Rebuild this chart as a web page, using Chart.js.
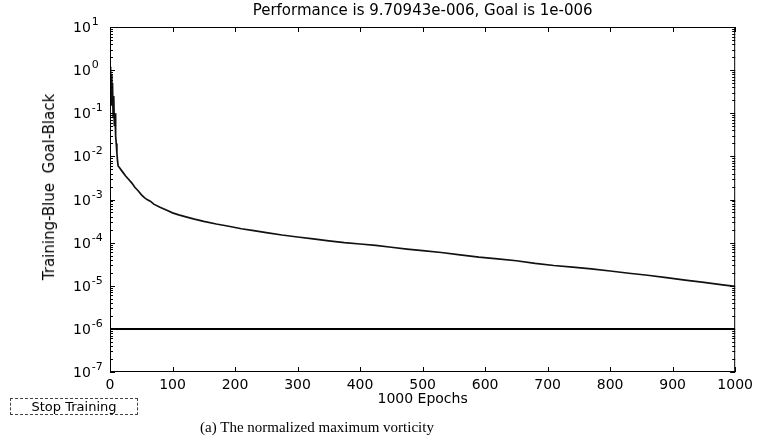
<!DOCTYPE html>
<html>
<head>
<meta charset="utf-8">
<script src="https://cdn.jsdelivr.net/npm/chart.js@4.4.1/dist/chart.umd.min.js"></script>
<style>
    body { margin: 0; background: #fff; }
    #wrap { position: relative; width: 758px; height: 441px; overflow: hidden; }
    #ylabel {
        position: absolute; left: 49px; top: 187px;
        transform: translate(-50%, -50%) rotate(-90deg);
        font: 15px "DejaVu Sans", sans-serif; white-space: pre; color: #000;
    }
    #stopBtn {
        position: absolute; left: 10px; top: 398px; width: 128px; height: 17px;
        border: 1px dashed #444; box-sizing: border-box;
        font: 13px "DejaVu Sans", sans-serif; line-height: 15px; text-align: center; color: #000;
    }
    #caption {
        position: absolute; left: 317px; top: 427px; transform: translate(-50%, -50%);
        font: 15px "Liberation Serif", serif; white-space: nowrap; color: #000;
    }
</style>
</head>
<body>
<div id="wrap">
    <canvas id="perfChart" width="758" height="441"></canvas>
    <div id="ylabel">Training-Blue  Goal-Black</div>
    <div id="stopBtn">Stop Training</div>
    <div id="caption">(a) The normalized maximum vorticity</div>
</div>
<script>
    // training performance (epoch, mse)
    const epochs = [0, 1, 2, 3, 4, 5, 6, 7, 8, 9, 10, 11, 12, 13, 15, 18, 21, 25, 30, 35, 40, 45, 50, 55, 60, 65, 70,
        80, 90, 100, 110, 120, 135, 150, 170, 190, 210, 230, 250, 275, 300, 325, 350, 375, 400, 425, 450, 475, 500,
        530, 560, 590, 620, 650, 680, 710, 740, 770, 800, 830, 860, 890, 920, 950, 980, 1000];
    const performance = [1.2, 0.35, 0.8, 0.15, 0.5, 0.08, 0.25, 0.05, 0.1, 0.03, 0.02, 0.012, 0.008, 0.006,
        0.0055, 0.0048, 0.0042, 0.0035, 0.0029, 0.0024, 0.0019, 0.0016, 0.0013, 0.0011, 0.00098, 0.0009, 0.00078,
        0.00066, 0.00057, 0.00049, 0.00044, 0.0004, 0.00035, 0.00031, 0.00027, 0.00024, 0.00021, 0.00019, 0.00017,
        0.00015, 0.000135, 0.000122, 0.00011, 0.0001, 9.3e-5, 8.6e-5, 7.8e-5, 7.1e-5, 6.5e-5,
        5.9e-5, 5.2e-5, 4.6e-5, 4.2e-5, 3.8e-5, 3.3e-5, 2.95e-5, 2.7e-5, 2.45e-5, 2.2e-5, 1.95e-5, 1.75e-5,
        1.55e-5, 1.35e-5, 1.2e-5, 1.05e-5, 9.71e-6];
    const goal = 1e-6;
    const goalEpochs = [0, 1000];

    // axis ticks
    const xTicks = [0, 100, 200, 300, 400, 500, 600, 700, 800, 900, 1000];
    const yDecades = [1e-7, 1e-6, 1e-5, 1e-4, 1e-3, 1e-2, 1e-1, 1e0, 1e1];

    // MATLAB style box with inward tick marks and 10^n labels
    const axisFrame = {
        id: 'axisFrame',
        afterDatasetsDraw(chart) {
            const { ctx, chartArea: a, scales: { x, y } } = chart;
            ctx.save();
            ctx.strokeStyle = '#000';
            ctx.lineWidth = 1;
            ctx.strokeRect(a.left + 0.5, a.top + 0.5, a.width - 1, a.height - 1);
            ctx.beginPath();
            xTicks.forEach(v => {
                const px = Math.round(x.getPixelForValue(v)) + 0.5;
                ctx.moveTo(px, a.bottom); ctx.lineTo(px, a.bottom - 5);
                ctx.moveTo(px, a.top); ctx.lineTo(px, a.top + 5);
            });
            yDecades.forEach(d => {
                for (let m = 1; m <= 9; m++) {
                    const v = d * m;
                    if (v > 10) break;
                    const py = Math.round(y.getPixelForValue(v)) + 0.5;
                    const len = m === 1 ? 5 : 3;
                    ctx.moveTo(a.left, py); ctx.lineTo(a.left + len, py);
                    ctx.moveTo(a.right, py); ctx.lineTo(a.right - len, py);
                }
            });
            ctx.stroke();

            // decade labels: "10" with raised exponent
            ctx.fillStyle = '#000';
            ctx.textAlign = 'left';
            ctx.textBaseline = 'alphabetic';
            yDecades.forEach(d => {
                const py = y.getPixelForValue(d);
                const exp = String(Math.round(Math.log10(d)));
                ctx.font = '14px "DejaVu Sans"';
                ctx.fillText('10', 73, py + 5);
                const w = ctx.measureText('10').width;
                ctx.font = '11px "DejaVu Sans"';
                ctx.fillText(exp, 73 + w + 1, py - 2);
            });
            ctx.restore();
        }
    };

    new Chart(document.getElementById('perfChart'), {
        type: 'line',
        data: {
            datasets: [{
                label: 'Training',
                data: epochs.map((e, i) => ({ x: e, y: performance[i] })),
                borderColor: '#111',
                borderWidth: 1.7,
                pointRadius: 0,
                tension: 0
            }, {
                label: 'Goal',
                data: goalEpochs.map(e => ({ x: e, y: goal })),
                borderColor: '#000',
                borderWidth: 2,
                pointRadius: 0
            }]
        },
        options: {
            responsive: false,
            animation: false,
            devicePixelRatio: 1,
            layout: { padding: { left: 72, right: 21, top: 0, bottom: 33 } },
            plugins: {
                legend: { display: false },
                tooltip: { enabled: false },
                title: {
                    display: true,
                    text: 'Performance is 9.70943e-006, Goal is 1e-006',
                    color: '#000',
                    fullSize: false,
                    font: { family: 'DejaVu Sans', size: 15, weight: 'normal' },
                    padding: { top: 2, bottom: 7 }
                }
            },
            scales: {
                x: {
                    type: 'linear',
                    min: 0,
                    max: 1000,
                    afterBuildTicks: s => { s.ticks = xTicks.map(v => ({ value: v })); },
                    afterFit: s => { s.height = 36; },
                    ticks: {
                        color: '#000',
                        font: { family: 'DejaVu Sans', size: 14 },
                        padding: 5,
                        maxRotation: 0,
                        callback: v => String(v)
                    },
                    grid: { display: false, drawTicks: false },
                    border: { display: false },
                    title: {
                        display: true,
                        text: '1000 Epochs',
                        color: '#000',
                        font: { family: 'DejaVu Sans', size: 14 },
                        padding: { top: 0, bottom: 0 }
                    }
                },
                y: {
                    type: 'logarithmic',
                    min: 1e-7,
                    max: 10,
                    afterBuildTicks: s => { s.ticks = yDecades.map(v => ({ value: v })); },
                    afterFit: s => { s.width = 38; },
                    ticks: { display: false },
                    grid: { display: false, drawTicks: false },
                    border: { display: false }
                }
            }
        },
        plugins: [axisFrame]
    });
</script>
</body>
</html>
